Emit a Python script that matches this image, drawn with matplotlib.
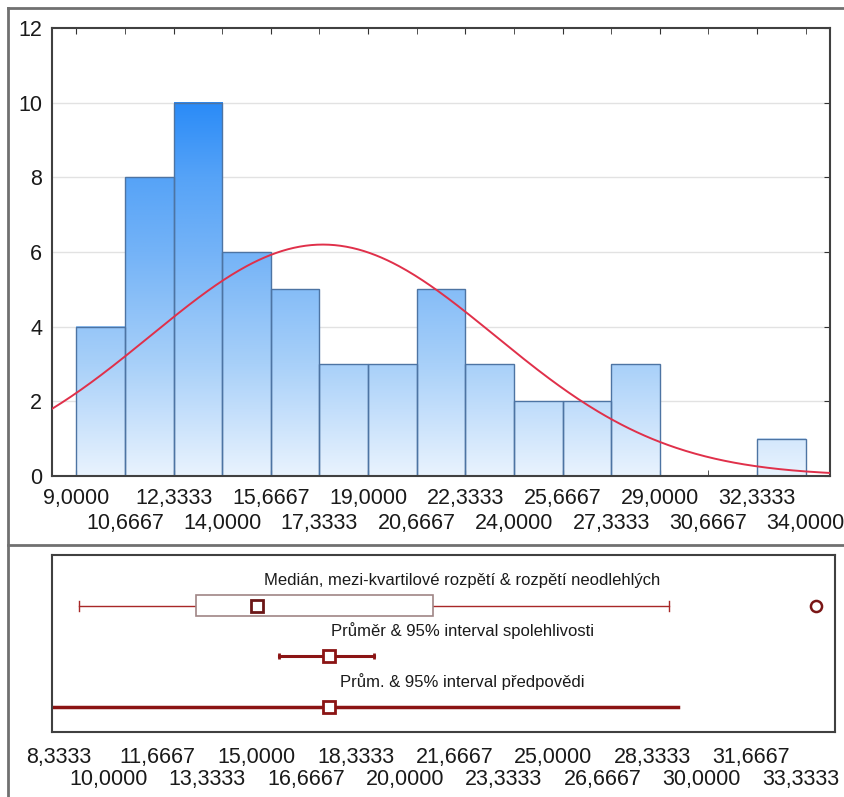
import numpy as np
import matplotlib
matplotlib.use("Agg")
import matplotlib.pyplot as plt
from matplotlib.colors import LinearSegmentedColormap, Normalize
from matplotlib.lines import Line2D

plt.rcParams['font.family'] = ['Liberation Sans', 'DejaVu Sans']

# histogram data
bin_start = 9.0
bin_width = 5.0 / 3.0
counts = [4, 8, 10, 6, 5, 3, 3, 5, 3, 2, 2, 3, 0, 0, 1]

# fitted normal curve
mean = 17.45
sd = 5.9

# box plot / interval summary
whisker_low = 9.0
q1 = 12.95
median = 15.0
q3 = 20.95
whisker_high = 28.9
outliers = [33.85]
mean_ci = (15.75, 18.95)
pred_int = (5.3, 29.2)

row_labels = ["Medián, mezi-kvartilové rozpětí & rozpětí neodlehlých",
              "Průměr & 95% interval spolehlivosti",
              "Prům. & 95% interval předpovědi"]

def fmt(v):
    return f"{v:.4f}".replace(".", ",")

def two_row_ticks(axis, ticks, pad, row_gap, size=15.5):
    # alternate labels between the major (upper row) and minor (lower row) ticks
    axis.set_xticks(ticks[0::2])
    axis.set_xticklabels([fmt(t) for t in ticks[0::2]], fontsize=size, color="#1a1a1a")
    axis.set_xticks(ticks[1::2], minor=True)
    axis.set_xticklabels([fmt(t) for t in ticks[1::2]], minor=True, fontsize=size,
                         color="#1a1a1a")
    axis.tick_params(axis="x", which="major", pad=pad)
    axis.tick_params(axis="x", which="minor", pad=pad + row_gap)

fig = plt.figure(figsize=(8.45, 7.97), dpi=100)

# ---- histogram ----
ax = fig.add_axes([0.0615, 0.4028, 0.9207, 0.5621])
xmin, xmax = bin_start - bin_width / 2, bin_start + len(counts) * bin_width + bin_width / 2

cmap = LinearSegmentedColormap.from_list(
    "bars", [(0.0, "#e9f3fe"), (0.3, "#a8d0f9"), (0.6, "#74b3f7"),
             (0.8, "#56a3f7"), (1.0, "#2a8bf8")])
norm = Normalize(0, 10)
grad = np.linspace(0, 10, 256).reshape(-1, 1)

for gy in [2, 4, 6, 8, 10]:
    ax.axhline(gy, color="#e2e2e2", lw=1, zorder=0)

edges = bin_start + bin_width * np.arange(len(counts) + 1)
for i, c in enumerate(counts):
    if c == 0:
        continue
    x0, x1 = edges[i], edges[i + 1]
    seg = grad[grad[:, 0] <= c]
    ax.imshow(seg, cmap=cmap, norm=norm, origin="lower", aspect="auto",
              extent=[x0, x1, 0, c], zorder=1, interpolation="bilinear")
    ax.add_patch(plt.Rectangle((x0, 0), x1 - x0, c, fill=False,
                               edgecolor="#4d74a3", lw=1, zorder=2))
ax.set_xlim(xmin, xmax)
ax.set_ylim(0, 12)

xs = np.linspace(xmin, xmax, 400)
n = sum(counts)
ys = n * bin_width / (sd * np.sqrt(2 * np.pi)) * np.exp(-0.5 * ((xs - mean) / sd) ** 2)
ax.plot(xs, ys, color="#e0304a", lw=1.4, zorder=3)

two_row_ticks(ax, edges, pad=9, row_gap=18)
ax.set_yticks(range(0, 13, 2))
ax.set_yticklabels([str(v) for v in range(0, 13, 2)], fontsize=15.5, color="#1a1a1a")
ax.tick_params(axis="x", which="both", direction="in", length=4, top=True,
               color="#333333")
ax.tick_params(axis="y", direction="in", length=4, left=False, right=True, pad=7,
               color="#333333")
for s in ax.spines.values():
    s.set_color("#404040")
    s.set_linewidth(1.5)

# ---- summary panel ----
bx = fig.add_axes([0.0615, 0.0816, 0.9266, 0.222])
bx.set_xlim(8.1, 34.5)
bx.set_ylim(0.5, 4.0)
dark = "#8b1414"

# box plot row
y3 = 3
bx.plot([whisker_low, q1], [y3, y3], color="#a82828", lw=1)
bx.plot([q3, whisker_high], [y3, y3], color="#a82828", lw=1)
for w in (whisker_low, whisker_high):
    bx.plot([w, w], [y3 - 0.1, y3 + 0.1], color="#a82828", lw=1)
bx.add_patch(plt.Rectangle((q1, y3 - 0.21), q3 - q1, 0.42, facecolor="white",
                           edgecolor="#a08585", lw=1.2, zorder=2))
bx.plot([median], [y3], marker="s", ms=8, mfc="white", mec="#6b1616", mew=2, zorder=3)
bx.plot(outliers, [y3] * len(outliers), marker="o", ms=8, ls="none", mfc="white",
        mec="#7a1616", mew=1.8)

# mean with confidence interval
y2 = 2
bx.plot(mean_ci, [y2, y2], color=dark, lw=2.2, marker="|", ms=5, mew=2)
bx.plot([mean], [y2], marker="s", ms=9, mfc="white", mec=dark, mew=2, zorder=3)

# mean with prediction interval
y1 = 1
bx.plot(pred_int, [y1, y1], color=dark, lw=2.5)
bx.plot([mean], [y1], marker="s", ms=9, mfc="white", mec=dark, mew=2, zorder=3)

for yl, txt in zip([3.5, 2.5, 1.5], row_labels):
    bx.text(0.524, (yl - 0.5) / 3.5, txt, transform=bx.transAxes, ha="center",
            va="center", fontsize=12, color="#1a1a1a")

bticks = 25.0 / 3.0 + (5.0 / 3.0) * np.arange(16)
two_row_ticks(bx, bticks, pad=11, row_gap=16)
bx.tick_params(axis="x", which="both", length=0)
bx.set_yticks([])
for s in bx.spines.values():
    s.set_color("#404040")
    s.set_linewidth(1.5)

# outer frame
W, H = 845, 797
frame = dict(color="#707070", lw=2, transform=fig.transFigure)
fig.add_artist(Line2D([8 / W, 8 / W], [0, 1 - 8 / H], **frame))
fig.add_artist(Line2D([8 / W, 1], [1 - 8 / H, 1 - 8 / H], **frame))
fig.add_artist(Line2D([8 / W, 1], [1 - 545 / H, 1 - 545 / H], **frame))

fig.savefig("out.png", dpi=100)
